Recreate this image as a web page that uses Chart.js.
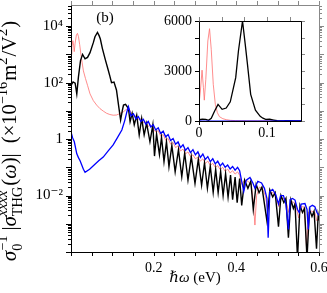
<!DOCTYPE html>
<html><head><meta charset="utf-8">
<script src="https://cdn.jsdelivr.net/npm/chart.js@4.4.1/dist/chart.umd.min.js"></script>
<style>
html,body{margin:0;padding:0;background:#fff;}
#wrap{position:relative;width:327px;height:293px;overflow:hidden;}
#main{position:absolute;left:0;top:0;width:327px;height:293px;}
#inset{position:absolute;left:150px;top:0;width:170px;height:145px;}
</style></head><body>
<div id="wrap">
<canvas id="main" width="327" height="293"></canvas>
<canvas id="inset" width="170" height="145"></canvas>
</div>
<script>
// ---- data (x in eV, y in 1e-16 m^2/V^2) ----
const blackX = [0,0.005,0.010,0.014,0.018,0.023,0.028,0.034,0.040,0.046,0.054,0.058,0.064,0.068,0.071,0.076,0.083,0.090,0.094,0.098,0.104,0.110,0.115,0.120,0.124,0.127,0.132,0.139,0.143,0.148,0.153,0.159,0.165,0.171,0.177,0.183,0.191,0.198,0.202,0.207,0.214,0.219,0.225,0.231,0.237,0.244,0.252,0.260,0.268,0.275,0.283,0.291,0.300,0.308,0.316,0.323,0.330,0.337,0.344,0.350,0.356,0.362,0.368,0.374,0.380,0.386,0.391,0.397,0.402,0.408,0.413,0.420,0.428,0.435,0.441,0.448,0.455,0.462,0.474,0.481,0.488,0.494,0.502,0.508,0.515,0.520,0.526,0.532,0.538,0.542,0.548,0.554,0.560,0.565,0.571,0.577,0.583,0.588,0.594,0.598,0.600];
const blackY = [80,105,95,40,160,600,1000,700,780,1150,2600,4200,6000,4600,3500,1600,650,280,170,100,105,55,16,4.7,10,16,17,12,4.1,8.1,3.2,7,1.4,5.4,1.4,3.6,0.8,3.2,0.25,1.5,0.28,1.15,0.16,0.8,0.105,0.6,0.069,0.42,0.046,0.32,0.035,0.24,0.027,0.19,0.023,0.145,0.018,0.11,0.013,0.085,0.0126,0.071,0.010,0.06,0.0089,0.053,0.0071,0.045,0.0056,0.04,0.0045,0.035,0.018,0.032,0.0032,0.025,0.0126,0.02,0.00126,0.0158,0.0089,0.0126,0.00079,0.01,0.0056,0.0079,0.00032,0.0071,0.0035,0.005,0.00006,0.0045,0.0025,0.0035,0.00006,0.0032,0.0018,0.0028,0.00013,0.002,0.0013];

const redX = [0,0.002,0.0045,0.0065,0.0078,0.010,0.013,0.0155,0.018,0.021,0.024,0.027,0.030,0.035,0.040,0.046,0.054,0.062,0.070,0.078,0.086,0.094,0.102,0.110,0.118,0.127,0.133,0.139,0.145,0.151,0.157,0.163,0.169,0.175,0.181,0.187,0.193,0.199,0.205,0.211,0.217,0.223,0.229,0.235,0.241,0.247,0.253,0.259,0.265,0.271,0.277,0.283,0.289,0.295,0.301,0.307,0.313,0.319,0.325,0.331,0.337,0.343,0.349,0.355,0.361,0.367,0.373,0.379,0.385,0.391,0.397,0.403,0.408,0.413,0.420,0.428,0.436,0.441,0.445,0.449,0.456,0.463,0.470,0.476,0.482,0.490,0.497,0.503,0.508,0.516,0.522,0.527,0.532,0.540,0.546,0.551,0.556,0.563,0.567,0.570,0.574,0.582,0.590,0.595,0.600];
const redY = [1000,1800,3050,2000,1250,2500,4800,5540,4300,2200,1000,500,260,140,80,40,23,16,12,9.8,8.2,7.4,7.0,7.1,8,9.3,11,12.6,8.9,7.1,6.3,5.0,5.2,3.8,4.0,2.8,3.2,2.3,1.78,2.0,1.26,1.45,0.91,1.05,0.66,0.76,0.50,0.575,0.38,0.44,0.30,0.35,0.24,0.275,0.20,0.23,0.166,0.20,0.138,0.166,0.117,0.138,0.10,0.115,0.083,0.10,0.072,0.087,0.063,0.076,0.0575,0.069,0.0525,0.025,0.035,0.032,0.025,0.0063,0.0009,0.01,0.02,0.018,0.01,0.0032,0.0126,0.0126,0.0079,0.004,0.0079,0.0079,0.005,0.0025,0.0063,0.0056,0.0032,0.0016,0.004,0.004,0.001,0.000126,0.0025,0.0028,0.0025,0.00126,0.0016];

const blueX = [0,0.004,0.008,0.014,0.018,0.022,0.026,0.030,0.034,0.045,0.056,0.067,0.078,0.090,0.102,0.112,0.123,0.130,0.135,0.139,0.145,0.151,0.157,0.163,0.169,0.175,0.181,0.187,0.193,0.199,0.205,0.211,0.217,0.223,0.229,0.235,0.241,0.247,0.253,0.259,0.265,0.271,0.277,0.283,0.289,0.295,0.301,0.307,0.313,0.319,0.325,0.331,0.337,0.343,0.349,0.355,0.361,0.367,0.373,0.379,0.385,0.391,0.397,0.403,0.408,0.413,0.418,0.424,0.433,0.440,0.445,0.452,0.461,0.468,0.474,0.477,0.481,0.488,0.495,0.502,0.507,0.514,0.520,0.526,0.530,0.536,0.542,0.548,0.552,0.557,0.566,0.571,0.574,0.578,0.584,0.590,0.595,0.600];
const blueY = [1.8,1.1,0.8,0.3,0.22,0.17,0.12,0.085,0.066,0.085,0.12,0.17,0.23,0.38,0.62,1.1,2.1,4.5,9,14,6.6,7.9,5.2,6.3,4.2,5.0,3.4,4.2,2.7,3.2,2.1,2.5,1.58,1.9,1.2,1.45,0.89,1.05,0.66,0.79,0.5,0.63,0.4,0.5,0.33,0.42,0.275,0.355,0.224,0.295,0.19,0.24,0.158,0.2,0.132,0.166,0.112,0.141,0.1,0.12,0.087,0.107,0.079,0.1,0.076,0.032,0.014,0.035,0.044,0.028,0.018,0.032,0.028,0.018,0.0079,0.00032,0.014,0.0166,0.0112,0.005,0.01,0.01,0.005,0.00063,0.0071,0.0079,0.0069,0.0032,0.0025,0.005,0.0052,0.0032,0.00063,0.004,0.0045,0.004,0.0025,0.002];

const yTickValues = [1e-2, 1, 1e2, 1e4];
const yTickLabels = ['10\u207B\u00B2', '1', '10\u00B2', '10\u2074'];
const xTickValues = [0.2, 0.4, 0.6];
const xTickLabels = ['0.2', '0.4', '0.6'];
const insetYTickValues = [0, 3000, 6000];
const insetYTickLabels = ['0', '3000', '6000'];
const insetXTickValues = [0, 0.1];
const insetXTickLabels = ['0', '0.1'];
const insetXTickMarks = [0, 0.0333, 0.0667, 0.1, 0.1333];
const insetYTickMarks = [0, 1000, 2000, 3000, 4000, 5000, 6000];

const FAM = "'Liberation Serif', 'DejaVu Serif', serif";
const pts = (xs, ys) => xs.map((x, i) => ({x: x, y: ys[i]}));

function ds(xs, ys, color, w) {
  return {data: pts(xs, ys), borderColor: color, borderWidth: w, pointRadius: 0, tension: 0, fill: false};
}

function seg(ctx, x1, y1, x2, y2, c) {
  ctx.strokeStyle = c; ctx.beginPath(); ctx.moveTo(x1, y1); ctx.lineTo(x2, y2); ctx.stroke();
}

function noPadX(s, h) { s.height = h; s.paddingLeft = 0; s.paddingRight = 0; }
function noPadY(s, w) { s.width = w; s.paddingTop = 0; s.paddingBottom = 0; }

function drawRuns(ctx, runs, S, draw) {
  let x = 0;
  for (const r of runs) {
    if (r.t !== undefined) {
      ctx.font = (r.it ? 'italic ' : '') + S + 'px ' + FAM;
      if (draw) ctx.fillText(r.t, x, 0);
      x += ctx.measureText(r.t).width;
    } else {
      const s2 = S * 0.7;
      let w = 0;
      if (r.sup) {
        ctx.font = (r.supIt ? 'italic ' : '') + s2 + 'px ' + FAM;
        if (draw) ctx.fillText(r.sup, x, -0.42 * S);
        w = Math.max(w, ctx.measureText(r.sup).width);
      }
      if (r.sub) {
        ctx.font = s2 + 'px ' + FAM;
        if (draw) ctx.fillText(r.sub, x, 0.28 * S);
        w = Math.max(w, ctx.measureText(r.sub).width);
      }
      x += w + S * 0.05;
    }
  }
  return x;
}

const yTitleRuns = [
  {t: '\u03C3', it: 1}, {sub: '0', sup: '\u22121'}, {t: '\u2009|', it: 0}, {t: '\u03C3', it: 1},
  {sub: 'THG', sup: 'xxxx', supIt: 1}, {t: '(', it: 0}, {t: '\u03C9', it: 1}, {t: ')|\u2002(\u00D710', it: 0},
  {sup: '\u221216'}, {t: 'm', it: 0}, {sup: '2'}, {t: '/V', it: 0}, {sup: '2'}, {t: ')', it: 0}
];

const mainDecor = {
  id: 'mainDecor',
  afterDraw(chart) {
    const {ctx, chartArea: a, scales: {x, y}} = chart;
    ctx.save();
    ctx.lineWidth = 1;
    for (let e = -4; e <= 4; e++) {
      for (let k = 1; k < 10; k++) {
        const v = k * Math.pow(10, e);
        if (v < y.min || v > y.max) continue;
        const py = Math.round(y.getPixelForValue(v)) + 0.5;
        const len = k === 1 ? 5 : 3;
        seg(ctx, a.left - len, py, a.left, py, '#000');
        seg(ctx, a.right, py, a.right + len, py, '#888');
      }
    }
    for (let i = 0; i <= 12; i++) {
      const px = Math.round(x.getPixelForValue(i * 0.05)) + 0.5;
      seg(ctx, px, a.bottom, px, a.bottom + 4, '#000');
      seg(ctx, px, a.top - 4, px, a.top, '#888');
    }
    const L = Math.round(a.left) + 0.5, R = Math.round(a.right) + 0.5, T = Math.round(a.top) + 0.5, B = Math.round(a.bottom) + 0.5;
    seg(ctx, L, T, R, T, '#888');
    seg(ctx, R, T, R, B, '#888');
    seg(ctx, L, T, L, B, '#000');
    seg(ctx, L, B, R, B, '#000');
    ctx.fillStyle = '#000';
    ctx.textAlign = 'center'; ctx.textBaseline = 'alphabetic';
    ctx.font = '15px ' + FAM;
    ctx.fillText('(b)', 105, 22);
    ctx.textAlign = 'left';
    ctx.font = 'italic 15px ' + FAM;
    const w1 = ctx.measureText('\u210F\u03C9').width;
    ctx.font = '15px ' + FAM;
    const w2 = ctx.measureText(' (eV)').width;
    const sx = 195 - (w1 + w2) / 2;
    ctx.font = 'italic 15px ' + FAM;
    ctx.fillText('\u210F\u03C9', sx, 282);
    ctx.font = '15px ' + FAM;
    ctx.fillText(' (eV)', sx + w1, 282);
    const tot = drawRuns(ctx, yTitleRuns, 16, false);
    const S = 16 * 240 / tot;
    const tot2 = drawRuns(ctx, yTitleRuns, S, false);
    ctx.translate(16, 141);
    ctx.rotate(-Math.PI / 2);
    ctx.translate(-tot2 / 2, 0);
    drawRuns(ctx, yTitleRuns, S, true);
    ctx.restore();
  }
};

new Chart(document.getElementById('main'), {
  type: 'line',
  data: {datasets: [ds(blueX, blueY, '#0000ff', 1.3), ds(blackX, blackY, '#000000', 1.4), ds(redX, redY, '#ff7070', 0.8)]},
  options: {
    responsive: false, animation: false, devicePixelRatio: 1,
    layout: {padding: {left: 0, top: 5, right: 8, bottom: 0}},
    plugins: {legend: {display: false}, tooltip: {enabled: false}},
    scales: {
      x: {
        type: 'linear', min: 0, max: 0.6,
        afterBuildTicks: s => { s.ticks = xTickValues.map(v => ({value: v})); },
        afterFit: s => noPadX(s, 41),
        grid: {display: false, drawTicks: false}, border: {display: false},
        ticks: {autoSkip: false, maxRotation: 0, padding: 8, color: '#000', font: {family: FAM, size: 14},
          callback: v => { const i = xTickValues.indexOf(v); return i < 0 ? '' : xTickLabels[i]; }}
      },
      y: {
        type: 'logarithmic', min: 1e-4, max: 5.6e4,
        afterBuildTicks: s => { s.ticks = yTickValues.map(v => ({value: v})); },
        afterFit: s => noPadY(s, 71),
        grid: {display: false, drawTicks: false}, border: {display: false},
        ticks: {autoSkip: false, padding: 8, color: '#000', font: {family: FAM, size: 15},
          callback: v => { const i = yTickValues.indexOf(v); return i < 0 ? '' : yTickLabels[i]; }}
      }
    }
  },
  plugins: [mainDecor]
});

const insetDecor = {
  id: 'insetDecor',
  beforeDatasetsDraw(chart) {
    const {ctx, chartArea: a} = chart;
    ctx.save(); ctx.fillStyle = '#fff'; ctx.fillRect(a.left, a.top, a.right - a.left, a.bottom - a.top); ctx.restore();
  },
  afterDraw(chart) {
    const {ctx, chartArea: a, scales: {x, y}} = chart;
    ctx.save(); ctx.lineWidth = 1;
    for (const v of insetYTickMarks) {
      const py = Math.round(y.getPixelForValue(v)) + 0.5;
      seg(ctx, a.left - 4, py, a.left, py, '#000');
      seg(ctx, a.right, py, a.right + 4, py, '#888');
    }
    for (const v of insetXTickMarks) {
      const px = Math.round(x.getPixelForValue(v)) + 0.5;
      seg(ctx, px, a.bottom, px, a.bottom + 4, '#000');
      seg(ctx, px, a.top - 4, px, a.top, '#888');
    }
    const L = Math.round(a.left) + 0.5, R = Math.round(a.right) + 0.5, T = Math.round(a.top) + 0.5, B = Math.round(a.bottom) + 0.5;
    seg(ctx, L, T, R, T, '#000'); seg(ctx, R, T, R, B, '#000');
    seg(ctx, L, T, L, B, '#000'); seg(ctx, L, B, R, B, '#000');
    ctx.restore();
  }
};

new Chart(document.getElementById('inset'), {
  type: 'line',
  data: {datasets: [ds(blueX, blueY, '#0000ff', 1.2), ds(blackX, blackY, '#000000', 1.3), ds(redX, redY, '#ff7070', 0.8)]},
  options: {
    responsive: false, animation: false, devicePixelRatio: 1,
    layout: {padding: {left: 0, top: 21, right: 19, bottom: 0}},
    plugins: {legend: {display: false}, tooltip: {enabled: false}},
    scales: {
      x: {
        type: 'linear', min: 0, max: 0.15,
        afterBuildTicks: s => { s.ticks = insetXTickValues.map(v => ({value: v})); },
        afterFit: s => noPadX(s, 24),
        grid: {display: false, drawTicks: false}, border: {display: false},
        ticks: {autoSkip: false, maxRotation: 0, padding: 4, color: '#000', font: {family: FAM, size: 14},
          callback: v => { const i = insetXTickValues.indexOf(v); return i < 0 ? '' : insetXTickLabels[i]; }}
      },
      y: {
        type: 'linear', min: 0, max: 6000,
        afterBuildTicks: s => { s.ticks = insetYTickValues.map(v => ({value: v})); },
        afterFit: s => noPadY(s, 49),
        grid: {display: false, drawTicks: false}, border: {display: false},
        ticks: {autoSkip: false, padding: 7, color: '#000', font: {family: FAM, size: 14},
          callback: v => { const i = insetYTickValues.indexOf(v); return i < 0 ? '' : insetYTickLabels[i]; }}
      }
    }
  },
  plugins: [insetDecor]
});
</script>
</body></html>
